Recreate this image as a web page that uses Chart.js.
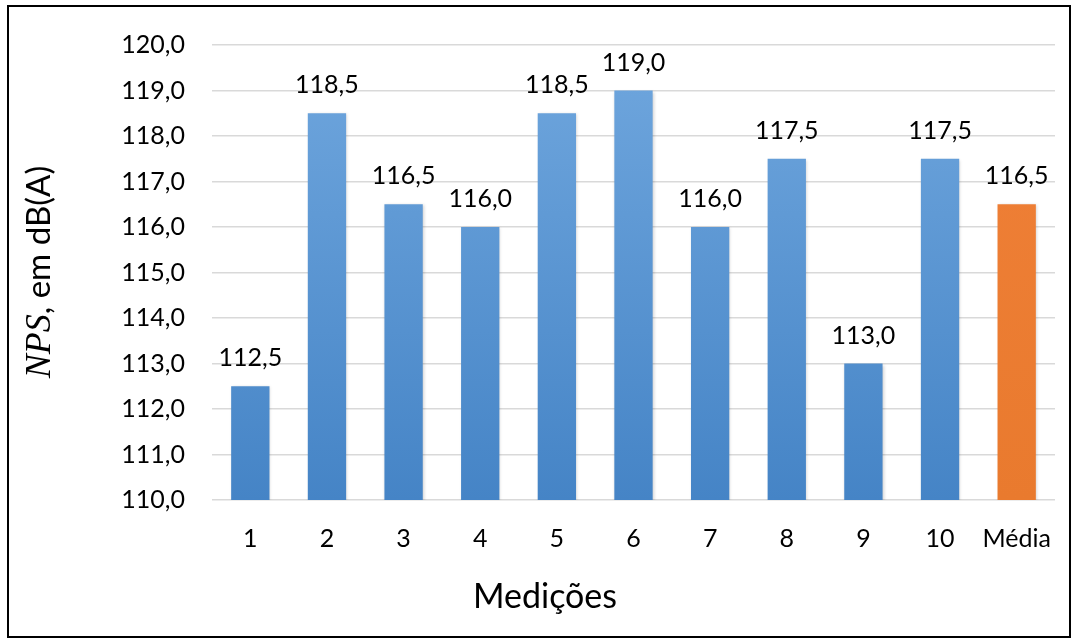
<!DOCTYPE html>
<html>
<head>
<meta charset="utf-8">
<style>
  html, body { margin: 0; padding: 0; background: #fff; }
  #wrap { width: 1077px; height: 642px; position: relative; }
</style>
<script src="https://cdn.jsdelivr.net/npm/chart.js@4.4.1/dist/chart.umd.min.js"></script>
</head>
<body>
<div id="wrap"><canvas id="chart" width="1077" height="642"></canvas></div>
<script>
// Sound pressure level (NPS) per measurement, plus the average
const categories = ['1', '2', '3', '4', '5', '6', '7', '8', '9', '10', 'Média'];
const npsValues = [112.5, 118.5, 116.5, 116.0, 118.5, 119.0, 116.0, 117.5, 113.0, 117.5, 116.5];
const yTickValues = [110, 111, 112, 113, 114, 115, 116, 117, 118, 119, 120];
const xTitle = 'Medições';
const yTitleItalic = 'NPS';
const yTitleRest = ', em dB(A)';

const fmt = v => v.toFixed(1).replace('.', ',');
const FONT = 'Lato, Carlito, "Open Sans", sans-serif';

function barFill(ctx, index) {
  const area = ctx.chart.chartArea;
  if (!area) return '#5b9bd5';
  const c = ctx.chart.ctx;
  const g = c.createLinearGradient(0, area.top, 0, area.bottom);
  if (categories[index] === 'Média') {
    g.addColorStop(0, '#f08038');
    g.addColorStop(1, '#e97a2e');
  } else {
    g.addColorStop(0, '#70a7de');
    g.addColorStop(1, '#4584c6');
  }
  return g;
}

// Frame, axis titles and value labels
const decor = {
  id: 'decor',
  beforeDatasetsDraw(chart) {
    const c = chart.ctx;
    c.save();
    c.shadowColor = 'rgba(0,0,0,0.18)';
    c.shadowBlur = 3;
    c.shadowOffsetX = 1;
    c.shadowOffsetY = 1;
  },
  afterDatasetsDraw(chart) {
    chart.ctx.restore();
    const c = chart.ctx;
    const meta = chart.getDatasetMeta(0);
    c.save();
    c.fillStyle = '#000';
    c.font = '25px ' + FONT;
    c.textAlign = 'center';
    c.textBaseline = 'alphabetic';
    meta.data.forEach((bar, i) => {
      c.fillText(fmt(npsValues[i]), bar.x, bar.y - 20);
    });
    c.restore();
  },
  afterDraw(chart) {
    const c = chart.ctx;
    c.save();
    // outer frame
    c.strokeStyle = '#000';
    c.lineWidth = 2;
    c.strokeRect(8, 6, 1062, 631);

    // x axis title
    c.fillStyle = '#000';
    c.font = '34px ' + FONT;
    c.textAlign = 'center';
    c.textBaseline = 'alphabetic';
    c.fillText(xTitle, 545, 608);

    // y axis title: italic symbol followed by upright text
    c.translate(50, 272);
    c.rotate(-Math.PI / 2);
    const italicFont = 'italic 36px "Liberation Serif", "DejaVu Serif", serif';
    const restFont = '33px ' + FONT;
    c.font = italicFont;
    const w1 = c.measureText(yTitleItalic).width;
    c.font = restFont;
    const w2 = c.measureText(yTitleRest).width;
    const x = -(w1 + w2) / 2;
    c.textAlign = 'left';
    c.font = italicFont;
    c.fillText(yTitleItalic, x, 0);
    c.font = restFont;
    c.fillText(yTitleRest, x + w1, 0);
    c.restore();
  }
};

new Chart(document.getElementById('chart'), {
  type: 'bar',
  data: {
    labels: categories,
    datasets: [{
      data: npsValues,
      backgroundColor: ctx => barFill(ctx, ctx.dataIndex),
      borderWidth: 0,
      categoryPercentage: 1.0,
      barPercentage: 0.5
    }]
  },
  options: {
    responsive: false,
    animation: false,
    devicePixelRatio: 1,
    layout: { padding: { top: 45, right: 22, bottom: 0, left: 0 } },
    plugins: {
      legend: { display: false },
      tooltip: { enabled: false }
    },
    scales: {
      x: {
        grid: { display: false, drawTicks: false },
        border: { display: false },
        ticks: {
          color: '#000',
          font: { family: FONT, size: 25 },
          padding: 24,
          maxRotation: 0
        },
        afterFit(scale) { scale.height = 142; }
      },
      y: {
        min: 110,
        max: 120,
        afterBuildTicks(scale) {
          scale.ticks = yTickValues.map(v => ({ value: v }));
        },
        grid: { color: '#d9d9d9', lineWidth: 1.5, drawTicks: false },
        border: { display: false },
        ticks: {
          color: '#000',
          font: { family: FONT, size: 25 },
          padding: 27,
          callback: v => fmt(v)
        },
        afterFit(scale) { scale.width = 212; }
      }
    }
  },
  plugins: [decor]
});
</script>
</body>
</html>
